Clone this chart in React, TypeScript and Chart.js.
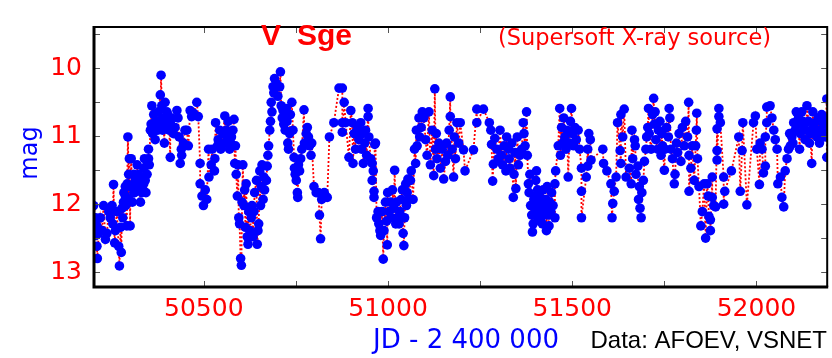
import React, { useEffect, useRef } from 'react';
import { Chart, registerables } from 'chart.js';

Chart.register(...registerables);

// JD - 2400000, visual magnitude
const season1996: [number, number][] = [
  [50201, 12.02], [50206, 12.2], [50207, 12.46], [50210, 12.32], [50210, 12.62], [50211, 12.8], [50215, 12.43],
  [50219, 12.2], [50224, 12.39], [50228, 12.02], [50233, 12.52], [50237, 12.43], [50242, 12.11], [50246, 12.2],
  [50251, 12.02], [50253, 12.29], [50255, 11.71], [50258, 12.57], [50260, 12.39], [50264, 12.11], [50269, 12.62],
  [50271, 12.91], [50274, 12.34], [50276, 12.71], [50278, 12.06], [50280, 12.2], [50282, 11.97], [50283, 11.83],
  [50287, 11.88], [50287, 11.74], [50288, 12.02], [50291, 12.32], [50292, 11.7], [50294, 11.01], [50296, 11.56],
  [50296, 11.93], [50298, 11.33], [50300, 12.32], [50301, 11.74], [50303, 11.33], [50305, 11.74], [50306, 11.97],
  [50310, 11.56], [50310, 11.83], [50312, 11.83], [50314, 11.65], [50315, 11.79], [50319, 11.42], [50323, 11.74],
  [50323, 11.56], [50328, 11.97], [50328, 11.74], [50332, 11.65], [50332, 11.83], [50337, 11.47], [50337, 11.7],
  [50339, 11.33], [50341, 11.65], [50343, 11.83], [50346, 11.56], [50346, 11.42], [50350, 11.19], [50350, 11.33],
  [50352, 11.42], [50355, 10.91], [50357, 10.82], [50359, 10.55], [50361, 10.96], [50364, 10.68], [50364, 10.87],
  [50368, 11.05], [50368, 10.8], [50373, 10.78], [50375, 10.91], [50377, 10.64], [50382, 10.39], [50382, 10.82],
  [50384, 10.1], [50386, 10.55], [50386, 10.75], [50388, 10.91], [50391, 10.73], [50391, 10.87], [50393, 11.1],
  [50395, 10.5], [50395, 10.78], [50400, 10.64], [50402, 10.68], [50404, 10.82], [50406, 10.91], [50409, 11.31],
  [50409, 10.8], [50413, 10.73], [50413, 10.91], [50418, 10.96], [50422, 10.87], [50427, 10.62], [50430, 10.73],
  [50433, 11.01], [50436, 11.4], [50439, 11.19], [50440, 11.28], [50445, 11.1], [50449, 10.91], [50454, 10.91],
  [50458, 11.14], [50463, 10.62], [50467, 10.71], [50472, 10.66], [50481, 10.5], [50485, 10.71], [50490, 11.4],
  [50490, 11.7], [50495, 11.88], [50499, 12.02], [50504, 11.79], [50508, 11.93], [50513, 11.19], [50514, 11.6],
  [50520, 11.42], [50523, 11.19], [50529, 11.51], [50532, 10.8],
];

const season1997: [number, number][] = [
  [50530, 11.33], [50537, 11.14], [50539, 11.05], [50543, 10.91], [50546, 11.19], [50552, 10.96], [50557, 10.7],
  [50559, 11.1], [50561, 10.91], [50564, 11.01], [50566, 10.78], [50570, 11.19], [50573, 11.1], [50575, 11.01],
  [50579, 10.91], [50582, 10.75], [50584, 11.4], [50586, 11.14], [50588, 11.56], [50591, 11.88], [50593, 11.42],
  [50595, 12.2], [50597, 12.29], [50600, 12.8], [50602, 12.9], [50604, 11.97], [50606, 11.42], [50609, 12.02],
  [50611, 11.79], [50613, 12.34], [50615, 11.7], [50618, 12.48], [50620, 12.59], [50622, 12.11], [50625, 12.39],
  [50629, 12.2], [50631, 12.02], [50634, 12.48], [50636, 12.11], [50638, 11.83], [50643, 11.65], [50645, 12.59],
  [50647, 12.39], [50649, 12.29], [50652, 11.51], [50654, 12.02], [50656, 11.74], [50658, 11.42], [50661, 11.93],
  [50663, 11.6], [50665, 11.79], [50670, 11.65], [50672, 11.44], [50674, 11.28], [50676, 11.14], [50679, 10.91],
  [50681, 10.78], [50683, 10.5], [50685, 10.64], [50688, 10.27], [50690, 10.36], [50692, 10.15], [50697, 10.22],
  [50701, 10.41], [50706, 10.27], [50708, 10.05], [50710, 10.55], [50713, 10.73], [50715, 10.62], [50717, 10.82],
  [50719, 10.68], [50721, 10.91], [50724, 10.59], [50726, 10.78], [50728, 11.1], [50730, 11.19], [50733, 10.96],
  [50735, 10.68], [50739, 10.5], [50742, 10.91], [50745, 11.31], [50746, 11.47], [50748, 11.56], [50751, 11.65],
  [50754, 11.83], [50755, 11.9], [50757, 11.42], [50760, 11.51], [50763, 11.33], [50766, 11.19], [50772, 10.61],
  [50773, 11.1], [50778, 10.96], [50781, 10.87], [50784, 11.01], [50787, 11.14], [50791, 11.28], [50793, 11.1],
  [50799, 11.74], [50805, 11.83], [50811, 11.83], [50814, 12.16], [50817, 12.51], [50820, 11.93], [50827, 11.83],
  [50835, 11.9], [50841, 11.01], [50853, 10.8],
];

const season1998: [number, number][] = [
  [50867, 10.29], [50876, 10.29], [50876, 10.8], [50876, 10.94], [50881, 10.5], [50885, 10.8], [50894, 11.31],
  [50899, 10.62], [50903, 10.8], [50905, 11.4], [50908, 10.96], [50912, 11.19], [50917, 10.87], [50921, 11.05],
  [50926, 10.8], [50928, 11.19], [50930, 10.96], [50933, 11.4], [50937, 11.1], [50939, 10.91], [50942, 11.28],
  [50946, 10.59], [50946, 10.71], [50948, 11.01], [50953, 11.33], [50957, 11.4], [50957, 11.65], [50960, 11.51],
  [50962, 11.81], [50962, 11.9], [50964, 11.12], [50966, 11.1], [50969, 12.2], [50973, 12.11], [50975, 12.29],
  [50978, 12.39], [50980, 12.46], [50984, 12.11], [50987, 12.81], [50989, 12.39], [50993, 11.97], [50996, 12.25],
  [50998, 12.6], [50999, 11.83], [51003, 12.11], [51007, 11.97], [51009, 12.2], [51012, 11.79], [51016, 12.06],
  [51018, 11.5], [51021, 12.29], [51023, 11.97], [51025, 12.2], [51030, 12.29], [51032, 12.11], [51036, 11.93],
  [51039, 11.79], [51041, 12.43], [51043, 12.61], [51045, 12.2], [51048, 11.7], [51050, 12.02], [51052, 11.83],
  [51054, 11.63], [51057, 11.93], [51061, 11.65], [51063, 11.51], [51068, 11.93], [51072, 11.19], [51075, 11.4],
  [51077, 10.91], [51079, 11.14], [51084, 10.73], [51086, 11.01], [51090, 10.87], [51093, 10.64], [51097, 10.73],
  [51102, 11.05], [51106, 11.28], [51111, 10.64], [51115, 11.42], [51120, 10.91], [51124, 11.58], [51127, 10.3],
  [51129, 11.19], [51131, 10.96], [51133, 11.33], [51138, 11.1], [51142, 11.47], [51147, 11.19], [51151, 11.63],
  [51156, 11.37], [51159, 11.1], [51162, 11.28], [51166, 10.91], [51169, 10.42], [51169, 10.71], [51174, 11.19],
  [51178, 11.6], [51180, 11.01], [51183, 11.33], [51187, 10.8], [51192, 11.1],
];

const season1999: [number, number][] = [
  [51196, 10.8], [51205, 11.2], [51209, 11.51], [51232, 11.2], [51241, 10.6], [51241, 10.8], [51259, 10.6],
  [51275, 10.8], [51279, 10.91], [51281, 11.12], [51284, 11.66], [51286, 11.41], [51290, 11.03], [51295, 11.19],
  [51299, 11.33], [51304, 10.91], [51308, 11.28], [51311, 11.42], [51315, 11.14], [51320, 11.51], [51322, 11.01],
  [51327, 11.19], [51329, 11.33], [51331, 11.47], [51336, 11.1], [51340, 11.9], [51342, 11.56], [51345, 11.24],
  [51347, 11.77], [51351, 11.01], [51354, 11.42], [51358, 11.28], [51363, 11.19], [51367, 10.8], [51369, 10.96],
  [51372, 11.14], [51376, 10.64], [51378, 11.28], [51381, 11.7], [51383, 11.83], [51385, 11.56], [51387, 12.02],
  [51390, 12.16], [51392, 12.41], [51394, 12.29], [51396, 11.93], [51398, 11.88], [51399, 12.11], [51401, 11.65],
  [51403, 11.51], [51405, 12.02], [51406, 11.79], [51408, 12.2], [51410, 11.88], [51412, 12.11], [51414, 12.25],
  [51417, 11.97], [51419, 12.29], [51421, 11.79], [51424, 12.16], [51426, 12.06], [51428, 11.93], [51430, 12.39],
  [51432, 11.74], [51435, 12.16], [51437, 12.32], [51439, 11.97], [51442, 12.11], [51444, 11.83], [51448, 12.02],
  [51453, 12.2], [51453, 11.7], [51455, 11.51], [51462, 11.14], [51466, 10.59], [51468, 11.28], [51471, 10.87],
  [51474, 11.1], [51477, 10.73], [51480, 11.01], [51483, 11.19], [51486, 10.91], [51489, 11.6], [51492, 11.1],
  [51495, 10.78], [51498, 10.59], [51501, 10.96], [51504, 11.14], [51507, 10.87], [51511, 11.05], [51516, 10.91],
  [51520, 11.19], [51525, 11.47], [51525, 11.81], [51525, 12.2],
];

const season2000: [number, number][] = [
  [51538, 11.6], [51542, 11.19], [51542, 11.44], [51545, 10.96], [51549, 11.05], [51551, 11.35], [51583, 11.19],
  [51585, 11.4], [51594, 11.51], [51605, 11.7], [51608, 12.2], [51610, 11.99], [51614, 11.81], [51619, 11.6],
  [51623, 10.8], [51630, 11.21], [51632, 11.4], [51632, 10.68], [51637, 11.01], [51641, 10.6], [51646, 11.6],
  [51655, 11.47], [51660, 11.7], [51662, 10.91], [51664, 11.33], [51669, 11.05], [51671, 11.14], [51673, 11.56],
  [51678, 11.44], [51680, 11.93], [51682, 11.74], [51684, 12.06], [51687, 12.2], [51689, 11.83], [51693, 11.65],
  [51696, 11.37], [51700, 11.19], [51702, 11.01], [51705, 10.87], [51707, 10.59], [51709, 10.96], [51714, 11.19],
  [51718, 10.68], [51721, 10.44], [51723, 10.82], [51725, 10.64], [51727, 11.05], [51732, 11.19], [51734, 10.91],
  [51738, 10.78], [51741, 11.28], [51743, 10.96], [51745, 11.14], [51750, 11.5], [51752, 11.19], [51756, 10.87],
  [51761, 11.01], [51763, 10.59], [51765, 10.73], [51768, 11.19], [51772, 11.33], [51777, 11.7], [51779, 11.56],
  [51783, 11.1], [51786, 11.24], [51790, 10.96], [51795, 11.37], [51799, 10.87], [51804, 11.14], [51808, 10.78],
  [51813, 11.01], [51816, 10.5], [51817, 11.28], [51817, 11.81], [51822, 11.47], [51826, 11.14], [51831, 11.65],
  [51835, 11.14], [51837, 10.91], [51838, 10.66], [51840, 11.33], [51844, 11.74], [51849, 12.32], [51853, 12.11],
  [51858, 11.7], [51862, 12.5],
];

const season2001: [number, number][] = [
  [51866, 11.7], [51869, 11.88], [51871, 12.18], [51875, 12.23], [51875, 12.39], [51880, 11.6], [51880, 11.9],
  [51884, 12.02], [51889, 12.04], [51893, 10.89], [51893, 11.21], [51893, 11.35], [51898, 10.59], [51898, 10.71],
  [51902, 10.8], [51911, 11.6], [51911, 12.0], [51914, 11.81], [51932, 11.51], [51952, 11.01], [51956, 11.81],
  [51961, 11.21], [51963, 10.8], [51974, 12.01], [51992, 10.8], [51997, 10.7], [52001, 11.19], [52008, 11.71],
  [52010, 11.1], [52015, 11.19], [52019, 11.54], [52024, 11.44], [52024, 11.01], [52028, 10.8], [52028, 10.57],
  [52037, 10.55], [52042, 10.73], [52047, 10.91], [52051, 11.05], [52056, 11.19], [52058, 11.7], [52065, 11.6],
  [52069, 11.9], [52074, 12.04], [52078, 11.51], [52083, 11.33], [52087, 11.19], [52090, 10.96], [52092, 11.14],
  [52096, 11.01], [52099, 11.1], [52101, 10.8], [52105, 10.91], [52108, 10.64], [52110, 10.82], [52114, 10.73],
  [52117, 11.19], [52119, 10.96], [52123, 10.64], [52126, 10.78], [52128, 10.87], [52132, 11.05], [52135, 10.91],
  [52137, 10.55], [52141, 10.78], [52144, 11.1], [52146, 10.96], [52150, 11.4], [52153, 10.64], [52155, 10.87],
  [52159, 10.8], [52162, 10.91], [52164, 11.01], [52168, 10.73], [52171, 11.1], [52173, 10.91], [52177, 10.68],
  [52180, 10.96], [52182, 10.82], [52186, 11.01], [52189, 10.73], [52191, 10.45], [52191, 11.31], [52197, 10.87],
];

const xRange = [50202, 52192];
const yRange = [9.39, 13.22];
const xTickValues = [50500, 50750, 51000, 51250, 51500, 51750, 52000];
const xTickLabels = [50500, 51000, 51500, 52000];
const yTickValues = [9.5, 10, 10.5, 11, 11.5, 12, 12.5, 13];
const yTickLabels = [10, 11, 12, 13];
const titleStar = ['V', 'Sge'];
const subtitle = '(Supersoft X-ray source)';
const xAxisTitle = 'JD - 2 400 000';
const yAxisTitle = 'mag';
const creditText = 'Data: AFOEV, VSNET';

export default function App() {
  const canvasRef = useRef<HTMLCanvasElement>(null);

  useEffect(() => {
    if (!canvasRef.current) return;
    const points = [...season1996, ...season1997, ...season1998, ...season1999, ...season2000, ...season2001]
      .slice()
      .sort((a, b) => a[0] - b[0])
      .map(([x, y]) => ({ x, y }));

    const decor = {
      id: 'decor',
      afterDraw(chart: any) {
        const { ctx, chartArea } = chart;
        const { left, right, top, bottom } = chartArea;
        const xs = chart.scales.x;
        const ys = chart.scales.y;
        ctx.save();
        // inward ticks
        ctx.strokeStyle = '#555';
        ctx.lineWidth = 1;
        const tickLen = 6;
        ctx.beginPath();
        xs.ticks.forEach((t: any) => {
          const px = Math.round(xs.getPixelForValue(t.value)) + 0.5;
          ctx.moveTo(px, top);
          ctx.lineTo(px, top + tickLen);
          ctx.moveTo(px, bottom);
          ctx.lineTo(px, bottom - tickLen);
        });
        ys.ticks.forEach((t: any) => {
          const py = Math.round(ys.getPixelForValue(t.value)) + 0.5;
          ctx.moveTo(left, py);
          ctx.lineTo(left + tickLen, py);
          ctx.moveTo(right, py);
          ctx.lineTo(right - tickLen, py);
        });
        ctx.stroke();
        // frame
        ctx.strokeStyle = '#000';
        ctx.lineWidth = 2;
        ctx.beginPath();
        ctx.moveTo(left, top);
        ctx.lineTo(right, top);
        ctx.lineTo(right, bottom);
        ctx.stroke();
        ctx.lineWidth = 3;
        ctx.beginPath();
        ctx.moveTo(left, top - 1);
        ctx.lineTo(left, bottom);
        ctx.lineTo(right + 1, bottom);
        ctx.stroke();

        // titles
        ctx.fillStyle = '#ff0000';
        ctx.textBaseline = 'alphabetic';
        ctx.textAlign = 'left';
        ctx.font = 'bold 30px "Liberation Sans"';
        ctx.fillText(titleStar[0], 261, 45);
        ctx.fillText(titleStar[1], 297, 45);
        ctx.font = '22.5px "DejaVu Sans"';
        ctx.fillText(subtitle, 498, 45);

        // axis titles
        ctx.fillStyle = '#0000ff';
        ctx.font = '26px "DejaVu Sans"';
        ctx.textAlign = 'center';
        ctx.fillText(xAxisTitle, 466, 348);
        ctx.save();
        ctx.translate(37, 153);
        ctx.rotate(-Math.PI / 2);
        ctx.font = '24px "DejaVu Sans"';
        ctx.fillText(yAxisTitle, 0, 0);
        ctx.restore();

        ctx.fillStyle = '#000';
        ctx.textAlign = 'right';
        ctx.font = '24px "Liberation Sans"';
        ctx.fillText(creditText, 827, 348);
        ctx.restore();
      },
    };

    const chart = new Chart(canvasRef.current, {
      type: 'scatter',
      data: {
        datasets: [
          {
            data: points,
            showLine: true,
            borderColor: '#ff0000',
            borderWidth: 1.8,
            borderDash: [2, 2],
            pointRadius: 4.8,
            pointBackgroundColor: '#0000ff',
            pointBorderColor: '#0000ff',
            pointBorderWidth: 0,
            tension: 0,
          },
        ],
      },
      options: {
        animation: false,
        responsive: false,
        devicePixelRatio: 1,
        layout: { padding: { top: 10, right: 3, bottom: 0, left: 0 } },
        plugins: { legend: { display: false }, tooltip: { enabled: false }, title: { display: false } },
        scales: {
          x: {
            type: 'linear',
            min: xRange[0],
            max: xRange[1],
            afterFit: (s: any) => {
              s.height = 71;
            },
            afterBuildTicks: (s: any) => {
              s.ticks = xTickValues.map((value) => ({ value }));
            },
            grid: { display: false, drawTicks: false },
            border: { display: false },
            ticks: {
              autoSkip: false,
              maxRotation: 0,
              padding: 7,
              color: '#ff0000',
              font: { family: 'DejaVu Sans', size: 25 },
              callback: (v: any) => (xTickLabels.includes(Number(v)) ? String(v) : ''),
            },
          },
          y: {
            type: 'linear',
            reverse: true,
            min: yRange[0],
            max: yRange[1],
            afterFit: (s: any) => {
              s.width = 94;
            },
            afterBuildTicks: (s: any) => {
              s.ticks = yTickValues.map((value) => ({ value }));
            },
            grid: { display: false, drawTicks: false },
            border: { display: false },
            ticks: {
              autoSkip: false,
              padding: 12,
              color: '#ff0000',
              font: { family: 'DejaVu Sans', size: 25 },
              callback: (v: any) => (yTickLabels.includes(Number(v)) ? String(v) : ''),
            },
          },
        },
      },
      plugins: [decor],
    });
    return () => chart.destroy();
  }, []);

  return (
    <div style={{ position: 'fixed', left: 0, top: 0, width: 832, height: 358, background: '#fff' }}>
      <canvas ref={canvasRef} width={832} height={358} />
    </div>
  );
}
